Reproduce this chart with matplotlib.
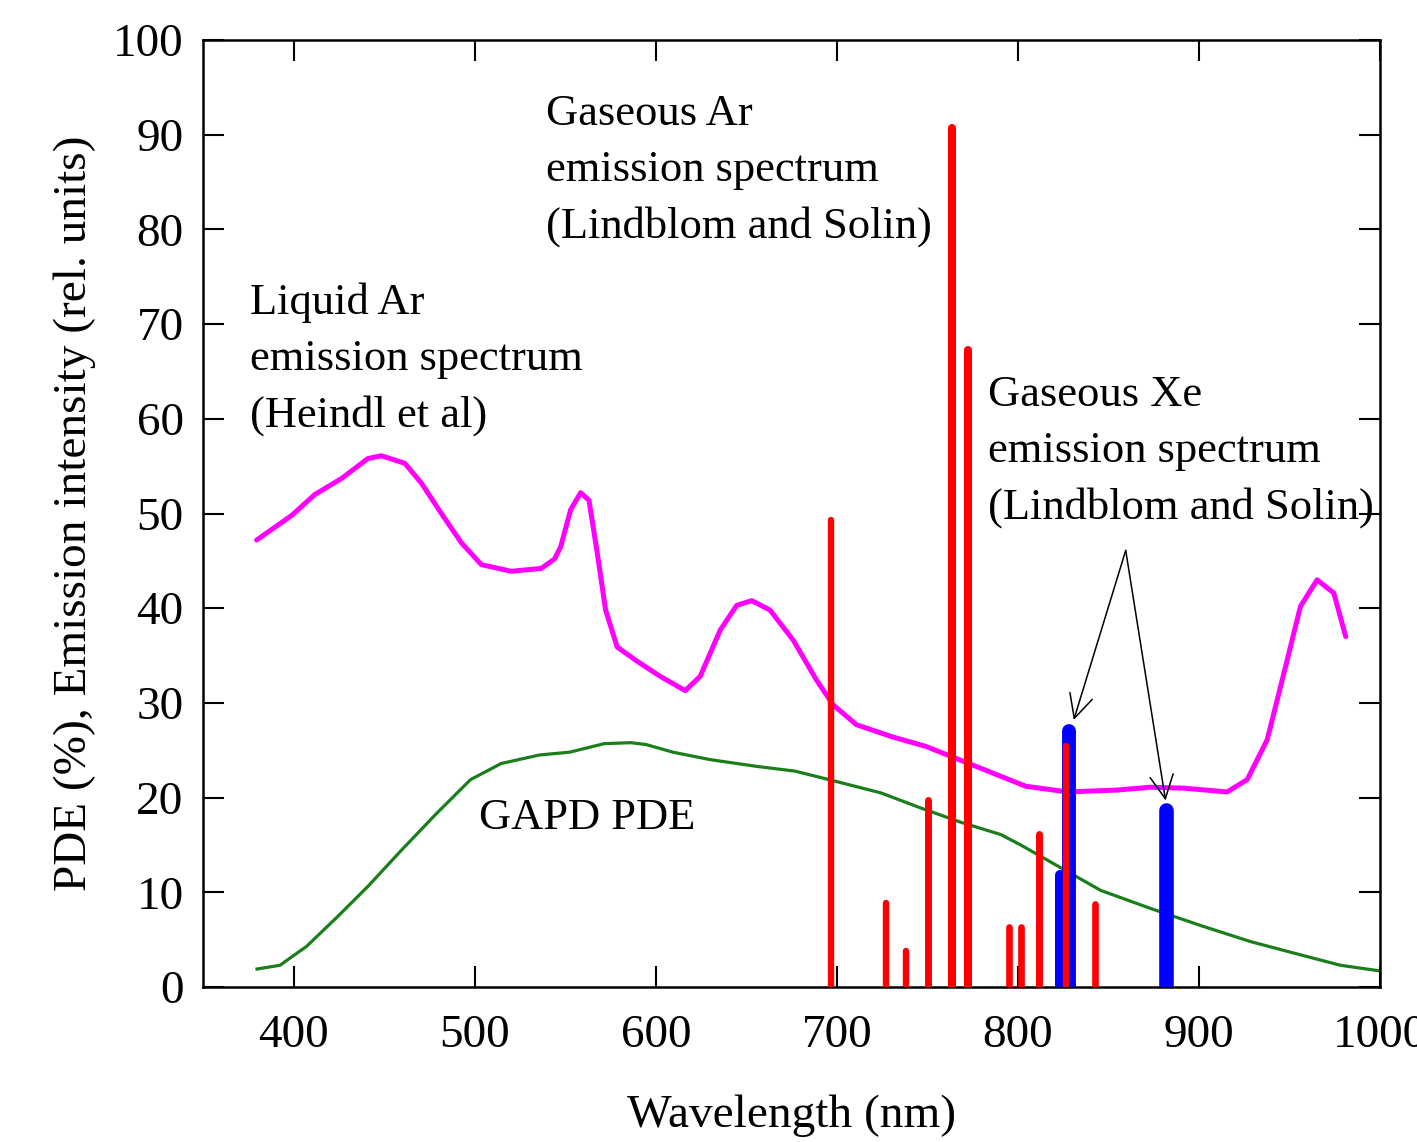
import matplotlib
matplotlib.use("Agg")
import matplotlib.pyplot as plt

# ---- data ----
lar_wl = [379.6, 399, 411.7, 426.5, 441, 448.5, 461.4, 470.6, 481.6, 492.7, 503.7, 520.2,
          536.8, 544.1, 547.5, 553, 558.5, 563.1, 567.7, 572.3, 578.7, 589.7, 602.5, 616.3,
          624.5, 635.6, 644.7, 653, 663.1, 676, 688.8, 697.9, 710.8, 730.9, 749.3, 767.6,
          786, 804.3, 827.3, 854.9, 873.2, 891.6, 915.5, 926.6, 937.6, 946.8, 956, 965.2,
          974.4, 981]
lar_int = [47.2, 49.8, 52.0, 53.7, 55.8, 56.1, 55.3, 53.2, 50.0, 46.9, 44.6, 43.9,
           44.2, 45.2, 46.5, 50.4, 52.2, 51.4, 45.8, 39.8, 35.9, 34.4, 32.8, 31.3,
           32.8, 37.7, 40.3, 40.8, 39.8, 36.6, 32.4, 29.8, 27.7, 26.4, 25.4, 24.0,
           22.6, 21.2, 20.6, 20.8, 21.1, 21.0, 20.6, 21.9, 26.1, 33.1, 40.2, 43.0,
           41.6, 37.0]

pde_wl = [379.8, 392.5, 407.2, 424.1, 440.9, 459.8, 478.8, 497.7, 514.6, 535.7, 552.5, 571.5,
          586.2, 594.7, 609.4, 630.4, 655.7, 676.8, 693.6, 724.3, 746.4, 768.4, 790.5, 801.5,
          823.6, 845.7, 873.2, 900.8, 928.4, 956, 978, 1000]
pde_val = [1.9, 2.3, 4.3, 7.4, 10.6, 14.5, 18.3, 21.9, 23.6, 24.5, 24.8, 25.7,
           25.8, 25.6, 24.8, 24.0, 23.3, 22.8, 22.0, 20.5, 18.9, 17.4, 16.1, 15.0,
           12.6, 10.2, 8.3, 6.5, 4.8, 3.4, 2.3, 1.7]

ar_lines = [696.5, 727.3, 738.4, 750.4, 763.5, 772.4, 794.8, 801.5, 811.5, 826.5, 842.5]
ar_int = [49.3, 8.9, 3.8, 19.7, 90.7, 67.3, 6.3, 6.3, 16.2, 25.4, 8.8]

xe_lines = [823.2, 828.0, 881.9]
xe_int = [11.8, 27.0, 18.7]
xe_widths = [7.2, 10, 10.5]
ar_widths = [4.6, 4.6, 4.6, 5.0, 5.8, 5.8, 4.8, 4.8, 5.0, 4.6, 4.8]

xticks = [400, 500, 600, 700, 800, 900, 1000]
yticks = [0, 10, 20, 30, 40, 50, 60, 70, 80, 90, 100]

# ---- plot ----
plt.rcParams['font.family'] = ['Liberation Serif', 'DejaVu Serif']
fig = plt.figure(figsize=(14.17, 11.42), dpi=100)
ax = fig.add_axes([0.1433, 0.1357, 0.974 - 0.1433, 0.965 - 0.1357])

ax.plot(lar_wl, lar_int, color='#ff00ff', lw=3.6, solid_capstyle='round',
        solid_joinstyle='round', zorder=2)
ax.plot(pde_wl, pde_val, color='#1a7f1a', lw=2.3, solid_joinstyle='round', zorder=2)

for x, h, w in zip(xe_lines, xe_int, xe_widths):
    ax.vlines(x, 0, h, color='#0000ff', lw=w, capstyle='round', zorder=3)
for x, h, w in zip(ar_lines, ar_int, ar_widths):
    ax.vlines(x, 0, h, color='#ff0000', lw=w, capstyle='round', zorder=4)

ax.set_xlim(350, 1000)
ax.set_ylim(0, 100)
ax.set_xticks(xticks)
ax.set_yticks(yticks)
ax.tick_params(direction='in', length=15, width=1.5, top=True, right=True,
               labelsize=34)
ax.tick_params(axis='x', pad=20)
ax.tick_params(axis='y', pad=14)
for s in ax.spines.values():
    s.set_linewidth(1.8)

ax.set_xlabel('Wavelength (nm)', fontsize=34, labelpad=27)
ax.set_ylabel('PDE (%), Emission intensity (rel. units)', fontsize=34, labelpad=12)

fs = 32
ls = 1.51
ax.text(539.5, 94.3, 'Gaseous Ar\nemission spectrum\n(Lindblom and Solin)', fontsize=fs,
        va='top', ha='left', linespacing=ls, zorder=6)
ax.text(376, 74.4, 'Liquid Ar\nemission spectrum\n(Heindl et al)', fontsize=fs,
        va='top', ha='left', linespacing=ls, zorder=6)
ax.text(783.5, 64.6, 'Gaseous Xe\nemission spectrum\n(Lindblom and Solin)', fontsize=fs,
        va='top', ha='left', linespacing=ls, zorder=6)
ax.text(502.4, 17.9, 'GAPD PDE', fontsize=fs, va='center', ha='left', zorder=6)

for end in [(830.8, 28.2), (881.5, 19.7)]:
    ax.annotate('', xy=end, xytext=(859.5, 46.1),
                arrowprops=dict(arrowstyle='->', color='black', lw=1.1,
                                mutation_scale=42, shrinkA=0, shrinkB=0), zorder=7)

fig.savefig('out.png', dpi=100)
